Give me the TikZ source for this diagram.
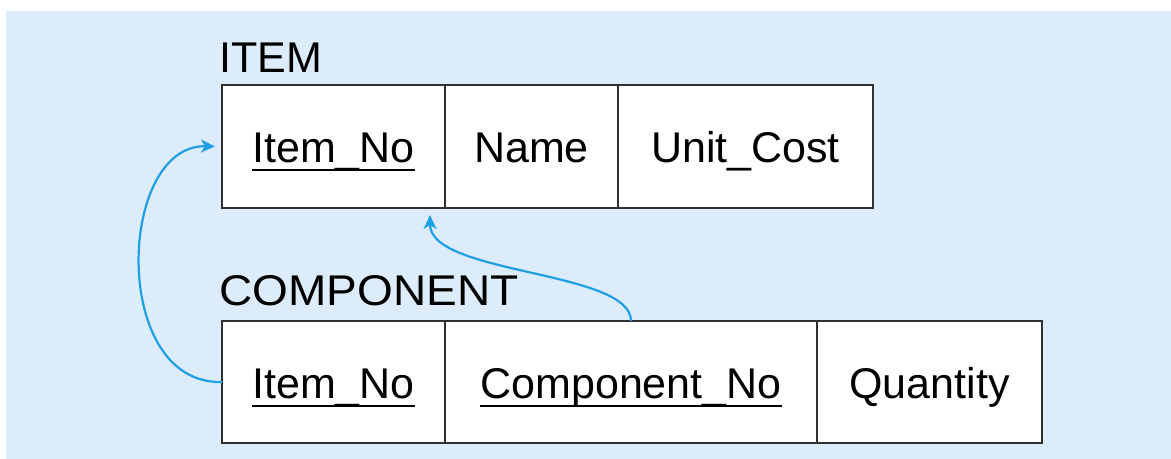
\documentclass[tikz,border=0pt]{standalone}
\usepackage{fontspec}
\setmainfont{Liberation Sans}
\usetikzlibrary{arrows.meta,positioning}
\definecolor{sky}{HTML}{DDECFA}
\definecolor{link}{HTML}{1E9FE6}
\definecolor{rulegray}{HTML}{303030}
\newcommand{\keyfield}[1]{\setbox0\hbox{#1}\rlap{\rule[-4.5pt]{\wd0}{1pt}}\box0}
\tikzset{
  cell/.style={draw=rulegray, line width=0.9pt, fill=white, rectangle, outer sep=0pt, inner sep=0pt,
    text height=16pt, text depth=0pt, font=\fontsize{21.5}{25}\selectfont},
  irow/.style={cell, minimum height=61.5pt},
  crow/.style={cell, minimum height=61pt},
  tname/.style={anchor=base west, inner sep=0pt, font=\fontsize{21.5}{25}\selectfont},
  fk/.style={-{Stealth[length=7pt, width=6.5pt, inset=2pt]}, draw=link, line width=1.1pt}
}

\begin{document}
\begin{tikzpicture}[x=0.5pt, y=-0.5pt]
\useasboundingbox (0,0) rectangle (1171,459);
\fill[sky] (6,11) rectangle (1171,459);

% ITEM
\node[irow, minimum width=111.5pt] (iNo) at (333.5,146.5) {\keyfield{Item\_No}};
\node[irow, minimum width=86.5pt, right=0pt of iNo] (iName) {Name};
\node[irow, minimum width=127.5pt, right=0pt of iName] (iCost) {Unit\_Cost};
\node[tname] (iLbl) at ([xshift=-1.5pt, yshift=6pt]iNo.north west) {ITEM};

% COMPONENT
\node[crow, minimum width=111.5pt] (cNo) at (333.5,382) {\keyfield{Item\_No}};
\node[crow, minimum width=186pt, right=0pt of cNo] (cComp) {\keyfield{Component\_No}};
\node[crow, minimum width=112.5pt, right=0pt of cComp] (cQty) {Quantity};
\node[tname] (cLbl) at ([xshift=-1.5pt, yshift=7.5pt]cNo.north west) {\scalebox{1.07}[1]{COMPONENT}};

% foreign keys
\draw[fk, shorten >=3.5pt] (cNo.west) .. controls +(-112,3) and +(-105,-2) .. (iNo.west);
\draw[fk] (cComp.north) .. controls +(0,-51) and +(0,60) .. ([xshift=-7.5pt, yshift=-3.5pt]iNo.south east);
\end{tikzpicture}
\end{document}
